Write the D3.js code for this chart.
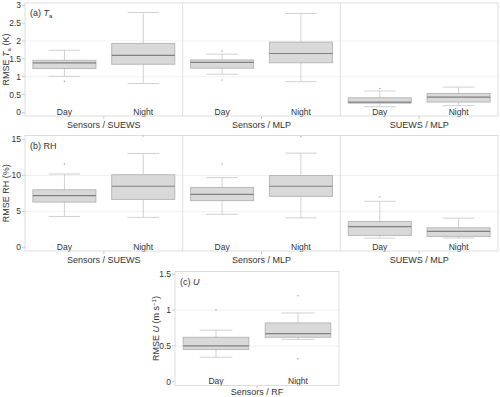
<!DOCTYPE html>
<html lang="en">
<head>
<meta charset="UTF-8">
<title>RMSE box plots</title>
<script src="https://d3js.org/d3.v7.min.js"></script>
<style>
  html, body { margin: 0; padding: 0; background: #fff; }
  svg text { font-family: "Liberation Sans", Arial, sans-serif; fill: #333; }
</style>
</head>
<body>
<svg id="svg" width="500" height="397"></svg>
<script>
// categories
const facetsAB = ["Sensors / SUEWS", "Sensors / MLP", "SUEWS / MLP"];
const facetsC = ["Sensors / RF"];
const periods = ["Day", "Night"];

// box stats: [lower whisker, q1, median, q3, upper whisker], facet by facet, Day then Night
const taStats = [
  [1.01, 1.23, 1.39, 1.46, 1.74], [0.81, 1.35, 1.60, 1.93, 2.80],
  [1.07, 1.24, 1.40, 1.47, 1.63], [0.86, 1.39, 1.65, 1.97, 2.77],
  [0.16, 0.26, 0.29, 0.41, 0.60], [0.19, 0.29, 0.43, 0.53, 0.71]
];
const taOutliers = [[0.87], [], [0.91, 1.72], [], [0.67], []];

const rhStats = [
  [4.3, 6.3, 7.2, 8.0, 10.2], [4.17, 6.67, 8.5, 10.1, 13.05],
  [4.6, 6.5, 7.36, 8.33, 9.7], [4.1, 7.1, 8.5, 10.0, 13.1],
  [1.3, 1.67, 2.9, 3.6, 6.4], [1.3, 1.53, 2.22, 2.72, 4.07]
];
const rhOutliers = [[11.57], [15.5], [11.6], [15.45], [7.0], []];

const uStats = [
  [0.34, 0.45, 0.50, 0.62, 0.72], [0.59, 0.62, 0.67, 0.82, 0.96]
];
const uOutliers = [[1.0], [0.32, 1.20]];

const taTicks = [0, 0.5, 1, 1.5, 2, 2.5, 3];
const rhTicks = [0, 5, 10, 15];
const uTicks = [0, 0.5, 1, 1.5];

const svg = d3.select("#svg");

function drawPanel(opt) {
  const g = svg.append("g");
  const { left, right, top, bottom } = opt;

  const y = d3.scaleLinear().domain(opt.yDomain).range([bottom, top]);
  const fx = d3.scaleBand().domain(opt.facets).range([left, right]);
  const px = d3.scaleBand().domain(periods).range([0, fx.bandwidth()]).paddingInner(0.2).paddingOuter(0.1);

  // gridlines
  g.selectAll(".grid").data(opt.grid).join("line")
    .attr("x1", left).attr("x2", right)
    .attr("y1", d => y(d)).attr("y2", d => y(d))
    .attr("stroke", "#eeeeee").attr("stroke-width", 0.8);

  // facet dividers
  g.selectAll(".div").data(opt.facets.slice(1)).join("line")
    .attr("x1", d => fx(d)).attr("x2", d => fx(d))
    .attr("y1", top).attr("y2", bottom)
    .attr("stroke", "#d9d9d9").attr("stroke-width", 0.8);

  // y axis ticks
  g.selectAll(".yt").data(opt.ticks).join("line")
    .attr("x1", left - 3).attr("x2", left)
    .attr("y1", d => y(d)).attr("y2", d => y(d))
    .attr("stroke", "#bbbbbb").attr("stroke-width", 0.8);
  g.selectAll(".yl").data(opt.ticks).join("text")
    .attr("x", left - 4).attr("y", d => y(d) + 3)
    .attr("text-anchor", "end").attr("font-size", 8.5)
    .text(d => d);

  // x ticks at facet centres
  g.selectAll(".xt").data(opt.facets).join("line")
    .attr("x1", d => fx(d) + fx.bandwidth() / 2).attr("x2", d => fx(d) + fx.bandwidth() / 2)
    .attr("y1", bottom).attr("y2", bottom + 3)
    .attr("stroke", "#bbbbbb").attr("stroke-width", 0.8);
  g.selectAll(".xl").data(opt.facets).join("text")
    .attr("x", d => fx(d) + fx.bandwidth() / 2).attr("y", bottom + opt.labelGap)
    .attr("text-anchor", "middle").attr("font-size", 9)
    .text(d => d);

  // boxes
  const items = [];
  opt.facets.forEach((f, i) => periods.forEach((p, j) => {
    const k = i * 2 + j;
    items.push({ f, p, s: opt.stats[k], out: opt.outliers[k] });
  }));
  const bw = px.bandwidth();
  const box = g.selectAll(".box").data(items).join("g")
    .attr("transform", d => `translate(${fx(d.f) + px(d.p)},0)`);

  box.append("line")
    .attr("x1", bw / 2).attr("x2", bw / 2)
    .attr("y1", d => y(d.s[0])).attr("y2", d => y(d.s[4]))
    .attr("stroke", "#cccccc").attr("stroke-width", 0.9);
  box.append("line")
    .attr("x1", bw / 4).attr("x2", bw * 3 / 4)
    .attr("y1", d => y(d.s[4])).attr("y2", d => y(d.s[4]))
    .attr("stroke", "#cccccc").attr("stroke-width", 0.9);
  box.append("line")
    .attr("x1", bw / 4).attr("x2", bw * 3 / 4)
    .attr("y1", d => y(d.s[0])).attr("y2", d => y(d.s[0]))
    .attr("stroke", "#cccccc").attr("stroke-width", 0.9);
  box.append("rect")
    .attr("x", 0).attr("width", bw)
    .attr("y", d => y(d.s[3])).attr("height", d => y(d.s[1]) - y(d.s[3]))
    .attr("fill", "#d9d9d9").attr("stroke", "#b3b3b3").attr("stroke-width", 0.9);
  box.append("line")
    .attr("x1", 0).attr("x2", bw)
    .attr("y1", d => y(d.s[2])).attr("y2", d => y(d.s[2]))
    .attr("stroke", "#808080").attr("stroke-width", 1.2);
  box.selectAll("circle").data(d => d.out).join("circle")
    .attr("cx", bw / 2).attr("cy", d => y(d)).attr("r", 0.8)
    .attr("fill", "#aaaaaa");

  // Day / Night labels inside the plot
  box.append("text")
    .attr("x", bw / 2).attr("y", bottom - 1.5)
    .attr("text-anchor", "middle").attr("font-size", 8.5)
    .text(d => d.p);

  // frame
  g.append("rect")
    .attr("x", left).attr("y", top)
    .attr("width", right - left).attr("height", bottom - top)
    .attr("fill", "none").attr("stroke", "#d4d4d4").attr("stroke-width", 0.8);

  // panel title
  const t = g.append("text").attr("x", left + 5).attr("y", top + 13).attr("font-size", 9);
  t.append("tspan").text(opt.title[0]);
  if (opt.title[1]) t.append("tspan").attr("font-style", "italic").text(opt.title[1]);
  if (opt.title[2]) t.append("tspan").attr("font-size", 6).attr("dy", 2).text(opt.title[2]);

  // y title
  const yt = g.append("text")
    .attr("transform", `translate(${left - 16},${(top + bottom) / 2}) rotate(-90)`)
    .attr("text-anchor", "middle").attr("font-size", 9);
  opt.yTitle.forEach(part => {
    const s = yt.append("tspan").text(part.t);
    if (part.i) s.attr("font-style", "italic");
    if (part.sub) s.attr("font-size", 6).attr("dy", 2);
    if (part.sup) s.attr("font-size", 6).attr("dy", -3);
    if (part.reset) s.attr("dy", part.reset);
  });
}

drawPanel({
  left: 25, right: 498, top: 3, bottom: 116, labelGap: 11.5,
  yDomain: [-0.1, 3.065], ticks: taTicks, grid: [1, 2],
  facets: facetsAB, stats: taStats, outliers: taOutliers,
  title: ["(a) ", "T", "a"],
  yTitle: [{ t: "RMSE " }, { t: "T", i: true }, { t: "a", sub: true }, { t: " (K)", reset: -2 }]
});

drawPanel({
  left: 25, right: 498, top: 135.5, bottom: 251, labelGap: 11.5,
  yDomain: [-0.5, 15.55], ticks: rhTicks, grid: [5, 10],
  facets: facetsAB, stats: rhStats, outliers: rhOutliers,
  title: ["(b) RH"],
  yTitle: [{ t: "RMSE RH (%)" }]
});

drawPanel({
  left: 175, right: 339, top: 271.5, bottom: 385.5, labelGap: 9.5,
  yDomain: [-0.055, 1.54], ticks: uTicks, grid: [0.5, 1],
  facets: facetsC, stats: uStats, outliers: uOutliers,
  title: ["(c) ", "U"],
  yTitle: [{ t: "RMSE " }, { t: "U", i: true }, { t: " (m s" }, { t: "−1", sup: true }, { t: ")", reset: 3 }]
});
</script>
</body>
</html>
